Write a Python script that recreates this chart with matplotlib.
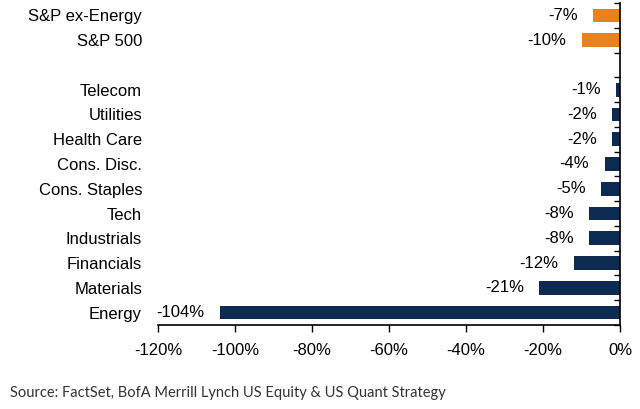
import matplotlib
matplotlib.use("Agg")
import matplotlib.pyplot as plt
from matplotlib.ticker import FuncFormatter, FixedLocator

categories = ["S&P ex-Energy", "S&P 500", "Telecom", "Utilities", "Health Care",
              "Cons. Disc.", "Cons. Staples", "Tech", "Industrials", "Financials",
              "Materials", "Energy"]
values = [-7, -10, -1, -2, -2, -4, -5, -8, -8, -12, -21, -104]
is_index = [True, True, False, False, False, False, False, False, False, False, False, False]
x_ticks = [-120, -100, -80, -60, -40, -20, 0]
source = "Source: FactSet, BofA Merrill Lynch US Equity & US Quant Strategy"

ORANGE = "#e8821e"
NAVY = "#0d2b50"

plt.rcParams['font.family'] = ['Liberation Sans', 'DejaVu Sans']

fig = plt.figure(figsize=(6.4, 4.09), dpi=100)
ax = fig.add_axes([158/640, 1 - 325/409, (620-158)/640, (325-3)/409])

# positions: leave an empty slot between index rows and sectors
positions = []
p = 0
for i, idx in enumerate(is_index):
    if i > 0 and is_index[i-1] and not idx:
        p += 1
    positions.append(p)
    p += 1
n_slots = p

colors = [ORANGE if idx else NAVY for idx in is_index]
ax.barh(positions, values, height=0.55, color=colors)

for y, v in zip(positions, values):
    ax.annotate(f"{v}%", xy=(v, y), xytext=(-11, 0), textcoords="offset points",
                ha="right", va="center", fontsize=12, color="black")

ax.set_xlim(-120, 0)
ax.set_ylim(n_slots - 0.5, -0.5)

ax.set_xticks(x_ticks)
ax.xaxis.set_major_formatter(FuncFormatter(lambda v, _: f"{v:.0f}%"))
ax.tick_params(axis="x", direction="out", length=5, width=1, labelsize=12, pad=8)

ax.set_yticks(positions)
ax.set_yticklabels(categories, fontsize=12)
ax.tick_params(axis="y", which="major", length=0, pad=11.5)
ax.yaxis.set_minor_locator(FixedLocator([k - 0.5 for k in range(n_slots + 1)]))
ax.tick_params(axis="y", which="minor", left=False, right=True, direction="in",
               length=4, width=1)

for s in ["top", "left"]:
    ax.spines[s].set_visible(False)
ax.spines["right"].set_linewidth(1.2)
ax.spines["bottom"].set_linewidth(1.2)

fig.text(10/640, 1 - 393/409, source, ha="left", va="center", fontsize=10.5,
         color="#333333", family=["Lato", "DejaVu Sans"])

fig.savefig("out.png", dpi=100)
